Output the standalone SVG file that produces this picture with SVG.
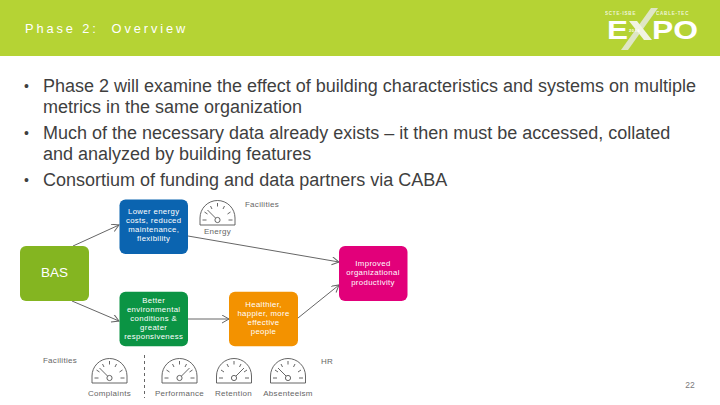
<svg xmlns="http://www.w3.org/2000/svg" width="720" height="405" viewBox="0 0 720 405">
<style>
text{font-family:"Liberation Sans",Arial,sans-serif}
.body{font-size:18px;fill:#3f3f3f}
.bul{font-size:14px;fill:#3f3f3f}
.box{font-size:7.800px;letter-spacing:.35px;fill:#fff;text-anchor:middle}
.lab{font-size:8px;letter-spacing:.3px;fill:#666;text-anchor:middle}
.con{fill:none;stroke:#666;stroke-width:1}
.g{fill:none;stroke:#555;stroke-width:.9}
</style>
<defs>
<marker id="a" markerWidth="10" markerHeight="10" refX="8" refY="4" orient="auto" markerUnits="userSpaceOnUse"><path d="M1 0L8 4L1 8" fill="none" stroke="#666" stroke-width="1"/></marker>
<g id="dial"><path class="g" d="M-17.500 12V5A17.500 17.500 0 0 1 17.500 5V12ZM-15 7H-11M11 7H15M-13-1L-10 1M13-1L10 1M-7-7L-5.500-4M7-7L5.500-4M0-10V-6.500"/><circle class="g" cx="0" cy="7" r="2.600"/></g>
<g id="nl"><use href="#dial"/><path class="g" d="M-2 5L-10-3"/></g>
<g id="nr"><use href="#dial"/><path class="g" d="M2 5L10-3"/></g>
</defs>
<rect width="720" height="405" fill="#fff"/>
<rect id="header" width="720" height="56" fill="#b5d334"/>
<text x="25" y="33" font-size="12.800" fill="#fff" letter-spacing="2.900" xml:space="preserve">Phase 2:  Overview</text>
<g id="logo" fill="#fff">
<path d="M651 8H658L628 50H621Z" fill="#dfe6c5"/>
<path d="M629 21H637L652 40H644Z" fill="#f1f4e2"/>
<text x="605" y="15" font-size="4.500" font-weight="700" letter-spacing=".8" opacity=".8">SCTE·ISBE</text>
<text x="656" y="15" font-size="4.500" font-weight="700" letter-spacing=".8" opacity=".8">CABLE-TEC</text>
<text x="607" y="39" font-size="25" font-weight="700" textLength="21" lengthAdjust="spacingAndGlyphs">E</text>
<text x="652" y="39" font-size="25" font-weight="700" textLength="46" lengthAdjust="spacingAndGlyphs">PO</text>
<text x="629" y="32" font-size="4" font-weight="700" letter-spacing=".6">2016</text>
</g>
<g id="bullets" class="body">
<text class="bul" x="24" y="91">•</text><text x="43" y="92">Phase 2 will examine the effect of building characteristics and systems on multiple</text>
<text x="43" y="113">metrics in the same organization</text>
<text class="bul" x="24" y="138">•</text><text x="43" y="139">Much of the necessary data already exists – it then must be accessed, collated</text>
<text x="43" y="160">and analyzed by building features</text>
<text class="bul" x="24" y="185">•</text><text x="43" y="186">Consortium of funding and data partners via CABA</text>
</g>
<g id="connectors">
<path class="con" marker-end="url(#a)" d="M73 246L119 225"/>
<path class="con" marker-end="url(#a)" d="M72 301L119 321"/>
<path class="con" marker-end="url(#a)" d="M188 236L339 262"/>
<path class="con" marker-end="url(#a)" stroke-width="1.200" d="M188 319L229 319"/>
<path class="con" marker-end="url(#a)" d="M298 318L339 285"/>
<path class="con" stroke-dasharray="3 3" d="M144.500 355V398"/>
</g>
<g id="bas"><rect x="20" y="246" width="69" height="55" rx="6" fill="#84b521"/><text x="54.500" y="277" font-size="13.500" fill="#fff" text-anchor="middle">BAS</text></g>
<g id="lower"><rect x="119.500" y="199.500" width="68.500" height="54.500" rx="6" fill="#0b64b0"/><text class="box"><tspan x="153.700" y="214">Lower energy</tspan><tspan x="153.700" y="223">costs, reduced</tspan><tspan x="153.700" y="232">maintenance,</tspan><tspan x="153.700" y="241">flexibility</tspan></text></g>
<g id="better"><rect x="119.500" y="291.700" width="68.500" height="54.500" rx="6" fill="#0b9444"/><text class="box"><tspan x="153.700" y="303">Better</tspan><tspan x="153.700" y="312">environmental</tspan><tspan x="153.700" y="321">conditions &amp;</tspan><tspan x="153.700" y="330">greater</tspan><tspan x="153.700" y="339">responsiveness</tspan></text></g>
<g id="healthier"><rect x="229" y="291.700" width="69" height="54.500" rx="6" fill="#f39200"/><text class="box"><tspan x="263.500" y="307">Healthier,</tspan><tspan x="263.500" y="316">happier, more</tspan><tspan x="263.500" y="325">effective</tspan><tspan x="263.500" y="334">people</tspan></text></g>
<g id="improved"><rect x="339" y="246" width="68.500" height="55" rx="6" fill="#e2007a"/><text class="box"><tspan x="373" y="266">Improved</tspan><tspan x="373" y="275">organizational</tspan><tspan x="373" y="285">productivity</tspan></text></g>
<g id="energy"><use href="#nl" x="217.500" y="213"/><text class="lab" x="217.500" y="234">Energy</text></g>
<g id="complaints"><use href="#nl" x="109.500" y="371"/><text class="lab" x="109.500" y="396">Complaints</text></g>
<g id="performance"><use href="#nr" x="179.500" y="371"/><text class="lab" x="179.500" y="396">Performance</text></g>
<g id="retention"><use href="#nr" x="234" y="371"/><text class="lab" x="233.500" y="396">Retention</text></g>
<g id="absenteeism"><use href="#nl" x="288" y="371"/><text class="lab" x="288" y="396">Absenteeism</text></g>
<text class="lab" x="262" y="207">Facilities</text>
<text class="lab" x="60" y="363">Facilities</text>
<text class="lab" x="327" y="364">HR</text>
<text x="690" y="388" font-size="8.500" fill="#7a7a7a" text-anchor="middle">22</text>
</svg>
